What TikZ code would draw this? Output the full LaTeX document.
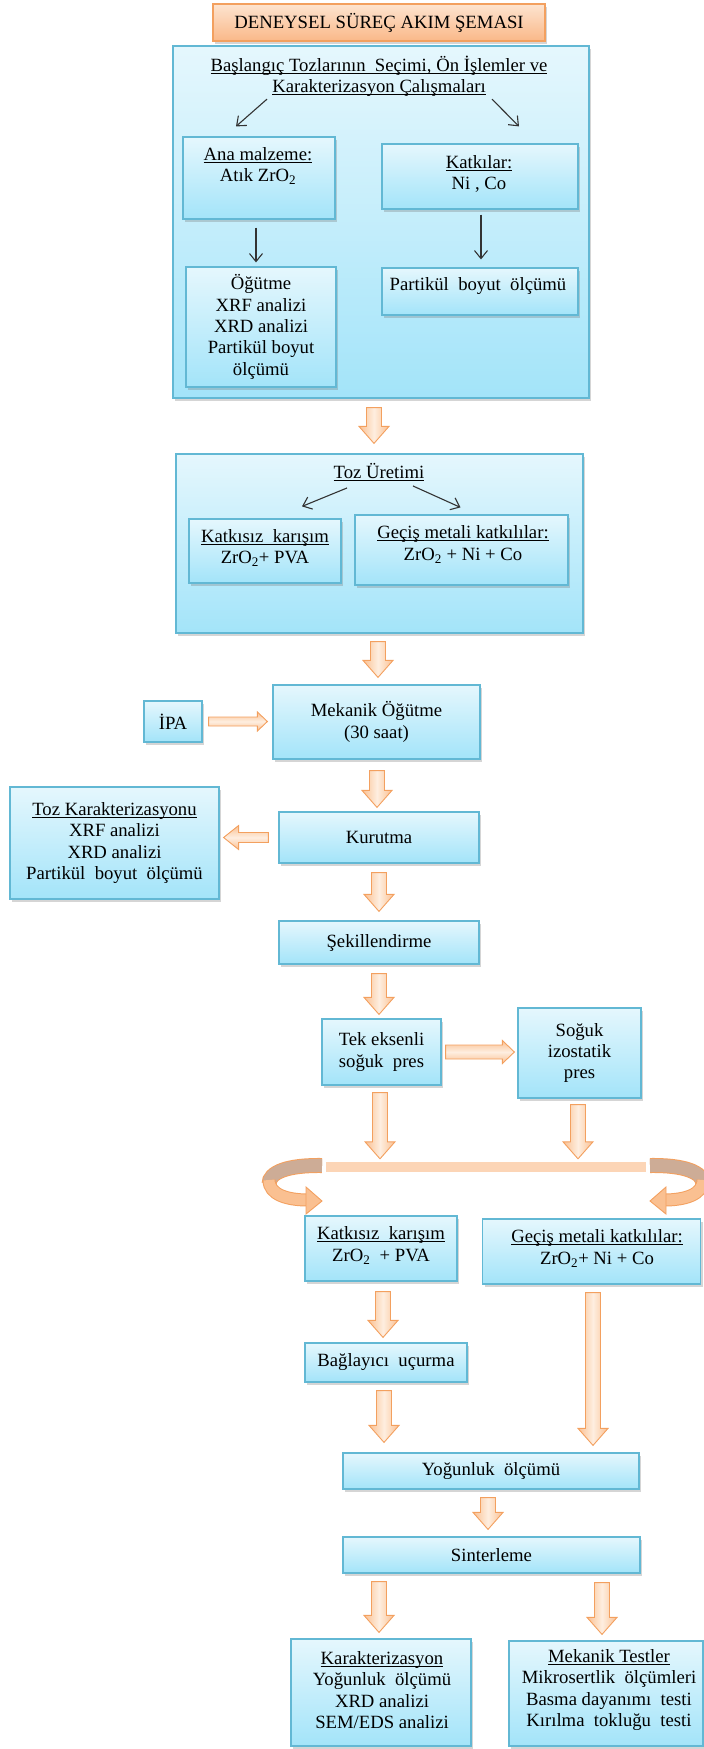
\documentclass[tikz,border=0pt]{standalone}
\usepackage{fontspec}
\setmainfont{Liberation Serif}
\usetikzlibrary{arrows.meta,calc,shadows}

\definecolor{bxtop}{RGB}{229,247,253}
\definecolor{bxbot}{RGB}{163,228,249}
\definecolor{bxline}{RGB}{98,184,212}
\definecolor{ortop}{RGB}{253,228,208}
\definecolor{orbot}{RGB}{250,184,136}
\definecolor{orline}{RGB}{243,160,95}
\definecolor{arrmid}{RGB}{254,238,224}
\definecolor{arredge}{RGB}{250,192,145}
\definecolor{barcol}{RGB}{252,213,182}
\definecolor{tancol}{RGB}{205,172,150}

\newcommand\uln[1]{\setbox0\hbox{#1}\rlap{\rule[-2.4pt]{\wd0}{0.9pt}}\box0}

\newcommand\dnarrow[2]{\path[arrowv] let \p1=(#1), \p2=(#2) in
  (\x1-7.5pt,\y1) -- (\x1+7.5pt,\y1) -- (\x1+7.5pt,\y2+17pt) -- (\x1+15pt,\y2+17pt)
  -- (\x1,\y2) -- (\x1-15pt,\y2+17pt) -- (\x1-7.5pt,\y2+17pt) -- cycle;}

\newcommand\hzarrow[5]{\path[arrowh] let \p1=(#1), \p2=(#2), \n1={sign(\x2-\x1)} in
  (\x1,\y1+#3) -- (\x2-\n1*#5,\y1+#3) -- (\x2-\n1*#5,\y1+#4) -- (\x2,\y1)
  -- (\x2-\n1*#5,\y1-#4) -- (\x2-\n1*#5,\y1-#3) -- (\x1,\y1-#3) -- cycle;}

\begin{document}
\begin{tikzpicture}[x=1pt,y=-1pt,
  font=\fontsize{18.7}{21.4}\selectfont,
  shad/.style={drop shadow={shadow xshift=2pt,shadow yshift=-2.5pt,opacity=0.3,fill=black!55}},
  box/.style={draw=bxline, line width=1.2pt, top color=bxtop, bottom color=bxbot, shad, inner sep=0pt, align=center},
  titlebox/.style={draw=orline, line width=1.2pt, top color=ortop, bottom color=orbot, shad, inner sep=0pt},
  txt/.style={align=center, inner sep=0pt},
  thinarrow/.style={draw=black!80, line width=1.1pt, -{Straight Barb[length=8pt,width=13pt]}},
  arrowv/.style={left color=arredge, right color=arredge, middle color=arrmid, draw=orline, line width=0.9pt},
  arrowh/.style={top color=arredge, bottom color=arredge, middle color=arrmid, draw=orline, line width=0.9pt},
]
\useasboundingbox (0,0) rectangle (704,1749);

% title
\node[titlebox, minimum width=332pt, minimum height=37pt] (title) at (379,22.5) {DENEYSEL SÜREÇ AKIM ŞEMASI};

% block 1
\node[box, minimum width=416pt, minimum height=352pt] (big) at (381,222) {};
\node[txt] (hdr) at (379,76.5) {\uln{Başlangıç Tozlarının\ \ Seçimi, Ön İşlemler ve}\\\uln{Karakterizasyon Çalışmaları}};
\node[box, minimum width=152pt, minimum height=82pt] (ana) at (259,178) {};
\node[txt] (anat) at (258,166) {\uln{Ana malzeme:}\\Atık ZrO\textsubscript{2}};
\node[box, minimum width=196pt, minimum height=65pt] (kat) at (480,176.5) {};
\node[txt] (katt) at (479,174) {\uln{Katkılar:}\\Ni , Co};
\node[box, minimum width=150pt, minimum height=120pt] (ogu) at (261,327) {Öğütme\\XRF analizi\\XRD analizi\\Partikül boyut\\ölçümü};
\node[box, minimum width=196pt, minimum height=47pt] (par) at (480,291.5) {};
\node[txt] (part) at (478,286) {Partikül\ \ boyut\ \ ölçümü};

\draw[thinarrow] ([xshift=-112pt,yshift=-2pt]hdr.south) -- ([xshift=-23pt,yshift=10pt]ana.north);
\draw[thinarrow] ([xshift=113pt,yshift=-2pt]hdr.south) -- ([xshift=39pt,yshift=17pt]kat.north);
\draw[thinarrow] ([xshift=-3pt,yshift=-8pt]ana.south) -- ([xshift=-5pt,yshift=4pt]ogu.north);
\draw[thinarrow] ([xshift=1pt,yshift=-5pt]kat.south) -- ([xshift=1pt,yshift=8pt]par.north);

% block 2
\node[box, minimum width=407pt, minimum height=179pt] (toz) at (379.5,543.5) {};
\node[txt] (tozh) at (379,472) {\uln{Toz Üretimi}};
\node[box, minimum width=152pt, minimum height=64pt] (kk1) at (265,551) {};
\node[txt] (kk1t) at (265,548) {\uln{Katkısız\ \ karışım}\\ZrO\textsubscript{2}+ PVA};
\node[box, minimum width=213pt, minimum height=70pt] (gm1) at (461.5,550) {};
\node[txt] (gm1t) at (463,544.5) {\uln{Geçiş metali katkılılar:}\\ZrO\textsubscript{2} + Ni + Co};
\draw[thinarrow] ([xshift=-32pt,yshift=-7pt]tozh.south) -- ([xshift=37pt,yshift=12pt]kk1.north);
\draw[thinarrow] ([xshift=34pt,yshift=-5pt]tozh.south) -- ([xshift=-1pt,yshift=7pt]gm1.north);

% process
\node[box, minimum width=58pt, minimum height=41pt] (ipa) at (173,721.5) {İPA};
\node[box, minimum width=207pt, minimum height=74pt] (mek) at (376.5,722) {Mekanik Öğütme\\(30 saat)};
\node[box, minimum width=209pt, minimum height=112pt] (tk) at (114.5,843) {\uln{Toz Karakterizasyonu}\\XRF analizi\\XRD analizi\\Partikül\ \ boyut\ \ ölçümü};
\node[box, minimum width=200pt, minimum height=51pt] (kur) at (379,837.5) {Kurutma};
\node[box, minimum width=200pt, minimum height=43pt] (sek) at (379,942.5) {Şekillendirme};
\node[box, minimum width=119pt, minimum height=66pt] (tek) at (381.5,1052) {Tek eksenli\\soğuk\ \ pres};
\node[box, minimum width=123pt, minimum height=90pt] (sog) at (579.5,1053) {Soğuk\\izostatik\\pres};
\node[fill=barcol, minimum width=320pt, minimum height=10pt, inner sep=0pt] (bar) at (486,1167) {};

\node[box, minimum width=152pt, minimum height=65pt] (kk2) at (381,1248.5) {};
\node[txt] (kk2t) at (381,1245.5) {\uln{Katkısız\ \ karışım}\\ZrO\textsubscript{2}\ \ + PVA};
\node[box, minimum width=218pt, minimum height=65pt] (gm2) at (591.5,1251.5) {};
\node[txt] (gm2t) at (597,1248.5) {\uln{Geçiş metali katkılılar:}\\ZrO\textsubscript{2}+ Ni + Co};
\node[box, minimum width=162pt, minimum height=39pt] (bag) at (386,1362.5) {Bağlayıcı\ \ uçurma};
\node[box, minimum width=296pt, minimum height=36pt] (yog) at (491,1471) {Yoğunluk\ \ ölçümü};
\node[box, minimum width=297pt, minimum height=36pt] (sin) at (491.5,1555) {Sinterleme};
\node[box, minimum width=180pt, minimum height=107pt] (kar) at (381,1692.5) {};
\node[txt] (kart) at (382,1690) {\uln{Karakterizasyon}\\Yoğunluk\ \ ölçümü\\XRD analizi\\SEM/EDS analizi};
\node[box, minimum width=194pt, minimum height=105pt] (mt) at (606,1693.5) {};
\node[txt] (mtt) at (609,1690) {\uln{Mekanik Testler}\\Mikrosertlik\ \ ölçümleri\\Basma dayanımı\ \ testi\\Kırılma\ \ tokluğu\ \ testi};

% block arrows (vertical)
\dnarrow{[xshift=-7pt,yshift=-9pt]big.south}{[yshift=10pt]toz.north}
\dnarrow{[xshift=-1.5pt,yshift=-8pt]toz.south}{[yshift=7pt]mek.north}
\dnarrow{[xshift=0.5pt,yshift=-11pt]mek.south}{[yshift=4pt]kur.north}
\dnarrow{[yshift=-9pt]kur.south}{[yshift=9pt]sek.north}
\dnarrow{[yshift=-9pt]sek.south}{[yshift=4pt]tek.north}
\dnarrow{[xshift=-1.5pt,yshift=-7pt]tek.south}{[yshift=3pt]bar.north}
\dnarrow{[xshift=-1.5pt,yshift=-6pt]sog.south}{[yshift=3pt]bar.north}
\dnarrow{[xshift=2pt,yshift=-10pt]kk2.south}{[yshift=5pt]bag.north}
\dnarrow{[xshift=-2pt,yshift=-8pt]bag.south}{[yshift=10pt]yog.north}
\dnarrow{[xshift=1.5pt,yshift=-8pt]gm2.south}{[yshift=7pt]yog.north}
\dnarrow{[xshift=-3pt,yshift=-8pt]yog.south}{[yshift=7pt]sin.north}
\dnarrow{[xshift=-112.5pt,yshift=-8pt]sin.south}{[yshift=6pt]kar.north}
\dnarrow{[xshift=110.5pt,yshift=-9pt]sin.south}{[yshift=6pt]mt.north}

% block arrows (horizontal)
\hzarrow{[xshift=6pt]ipa.east}{[xshift=-5pt]mek.west}{4.5pt}{9.5pt}{10pt}
\hzarrow{[xshift=-10pt]kur.west}{[xshift=4pt]tk.east}{5pt}{12pt}{15pt}
\hzarrow{[xshift=4pt]tek.east}{[xshift=-3pt]sog.west}{7pt}{11.5pt}{12pt}

% curved arrows
\draw[orline, line width=15pt] (322,1165.5) .. controls (288,1165) and (269,1172) .. (269,1184);
\draw[tancol, line width=13pt] (322,1165.5) .. controls (288,1165) and (269,1172) .. (269,1184);
\draw[orline, line width=13pt] (269,1180) .. controls (269,1195) and (288,1200) .. (308,1200);
\draw[arredge, line width=11pt] (269,1180) .. controls (269,1195) and (288,1200) .. (308,1200);
\path[fill=arredge, draw=orline, line width=0.9pt] (306,1187) -- (322,1201) -- (306,1214) -- cycle;

\draw[orline, line width=15pt] (650,1165.5) .. controls (684,1165) and (703,1172) .. (703,1184);
\draw[tancol, line width=13pt] (650,1165.5) .. controls (684,1165) and (703,1172) .. (703,1184);
\draw[orline, line width=13pt] (703,1180) .. controls (703,1195) and (684,1200) .. (664,1200);
\draw[arredge, line width=11pt] (703,1180) .. controls (703,1195) and (684,1200) .. (664,1200);
\path[fill=arredge, draw=orline, line width=0.9pt] (666,1187) -- (650,1201) -- (666,1214) -- cycle;
\end{tikzpicture}
\end{document}
